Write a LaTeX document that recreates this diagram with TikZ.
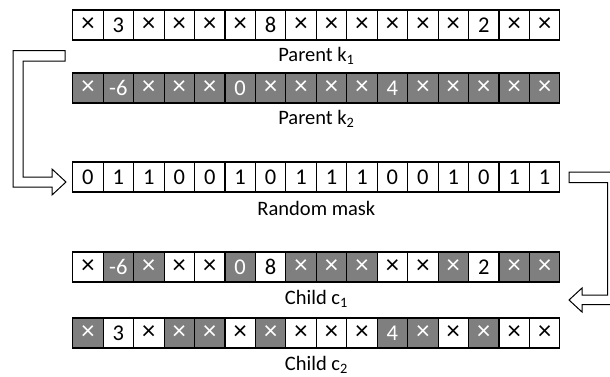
\documentclass[tikz,border=0pt]{standalone}
\usepackage{graphicx}
\usepackage{fontspec}
\setmainfont{Carlito}
\definecolor{cellgrey}{HTML}{7F7F7F}
% the "don't care" entry of a chromosome
\newcommand\dc{\scalebox{1.18}{×}}
\begin{document}
\begin{tikzpicture}[x=1pt,y=-1pt,
  cell/.style={draw=black,line width=1.1pt,minimum width=30.45pt,minimum height=30pt,
    inner sep=0pt,font=\fontsize{22.5}{22.5}\selectfont,anchor=center},
  whitecell/.style={cell,fill=white,text=black},
  greycell/.style={cell,fill=cellgrey,text=white},
  rowlabel/.style={font=\fontsize{20.5}{20.5}\selectfont,inner sep=0pt,anchor=center},
  blockarrow/.style={draw=black,line width=1pt,fill=white,line join=miter}]
\useasboundingbox (0,0) rectangle (610,376);
\clip (0,0) rectangle (610,376);

% parent k1
\foreach \v [count=\i from 0] in {\dc,3,\dc,\dc,\dc,\dc,8,\dc,\dc,\dc,\dc,\dc,\dc,2,\dc,\dc}
  \node[whitecell] (ka-\i) at (72.7+30.45*\i+15.225,25) {\v};
\node[rowlabel] (la) at (316.4,56) {Parent k\textsubscript{1}};

% parent k2
\foreach \v [count=\i from 0] in {\dc,-6,\dc,\dc,\dc,0,\dc,\dc,\dc,\dc,4,\dc,\dc,\dc,\dc,\dc}
  \node[greycell] (kb-\i) at (72.7+30.45*\i+15.225,88) {\v};
\node[rowlabel] (lb) at (316.4,119) {Parent k\textsubscript{2}};

% random mask
\foreach \v [count=\i from 0] in {0,1,1,0,0,1,0,1,1,1,0,0,1,0,1,1}
  \node[whitecell] (m-\i) at (72.7+30.45*\i+15.225,177) {\v};
\node[rowlabel] (lm) at (316.4,208) {Random mask};

% child c1
\foreach \v/\s [count=\i from 0] in {\dc/whitecell,-6/greycell,\dc/greycell,\dc/whitecell,\dc/whitecell,0/greycell,8/whitecell,\dc/greycell,\dc/greycell,\dc/greycell,\dc/whitecell,\dc/whitecell,\dc/greycell,2/whitecell,\dc/greycell,\dc/greycell}
  \node[\s] (ca-\i) at (72.7+30.45*\i+15.225,267) {\v};
\node[rowlabel] (lc) at (316.4,299) {Child c\textsubscript{1}};

% child c2
\foreach \v/\s [count=\i from 0] in {\dc/greycell,3/whitecell,\dc/whitecell,\dc/greycell,\dc/greycell,\dc/whitecell,\dc/greycell,\dc/whitecell,\dc/whitecell,\dc/whitecell,4/greycell,\dc/greycell,\dc/whitecell,\dc/greycell,\dc/whitecell,\dc/whitecell}
  \node[\s] (cb-\i) at (72.7+30.45*\i+15.225,333) {\v};
\node[rowlabel] (ld) at (316.4,365) {Child c\textsubscript{2}};

% bent arrow from the parents down into the mask
\draw[blockarrow] (65,50.5) -- (13,50.5) -- (13,187) -- (52,187) -- (52,195) -- (66,182)
  -- (52,169) -- (52,177) -- (23,177) -- (23,61) -- (65,61) -- cycle;

% bent arrow from the mask down to the children
\draw[blockarrow] (569,172) -- (617.5,172) -- (617.5,304.5) -- (582,304.5) -- (582,312)
  -- (569,300) -- (582,288) -- (582,295) -- (607.5,295) -- (607.5,182.5) -- (569,182.5) -- cycle;
\end{tikzpicture}
\end{document}
